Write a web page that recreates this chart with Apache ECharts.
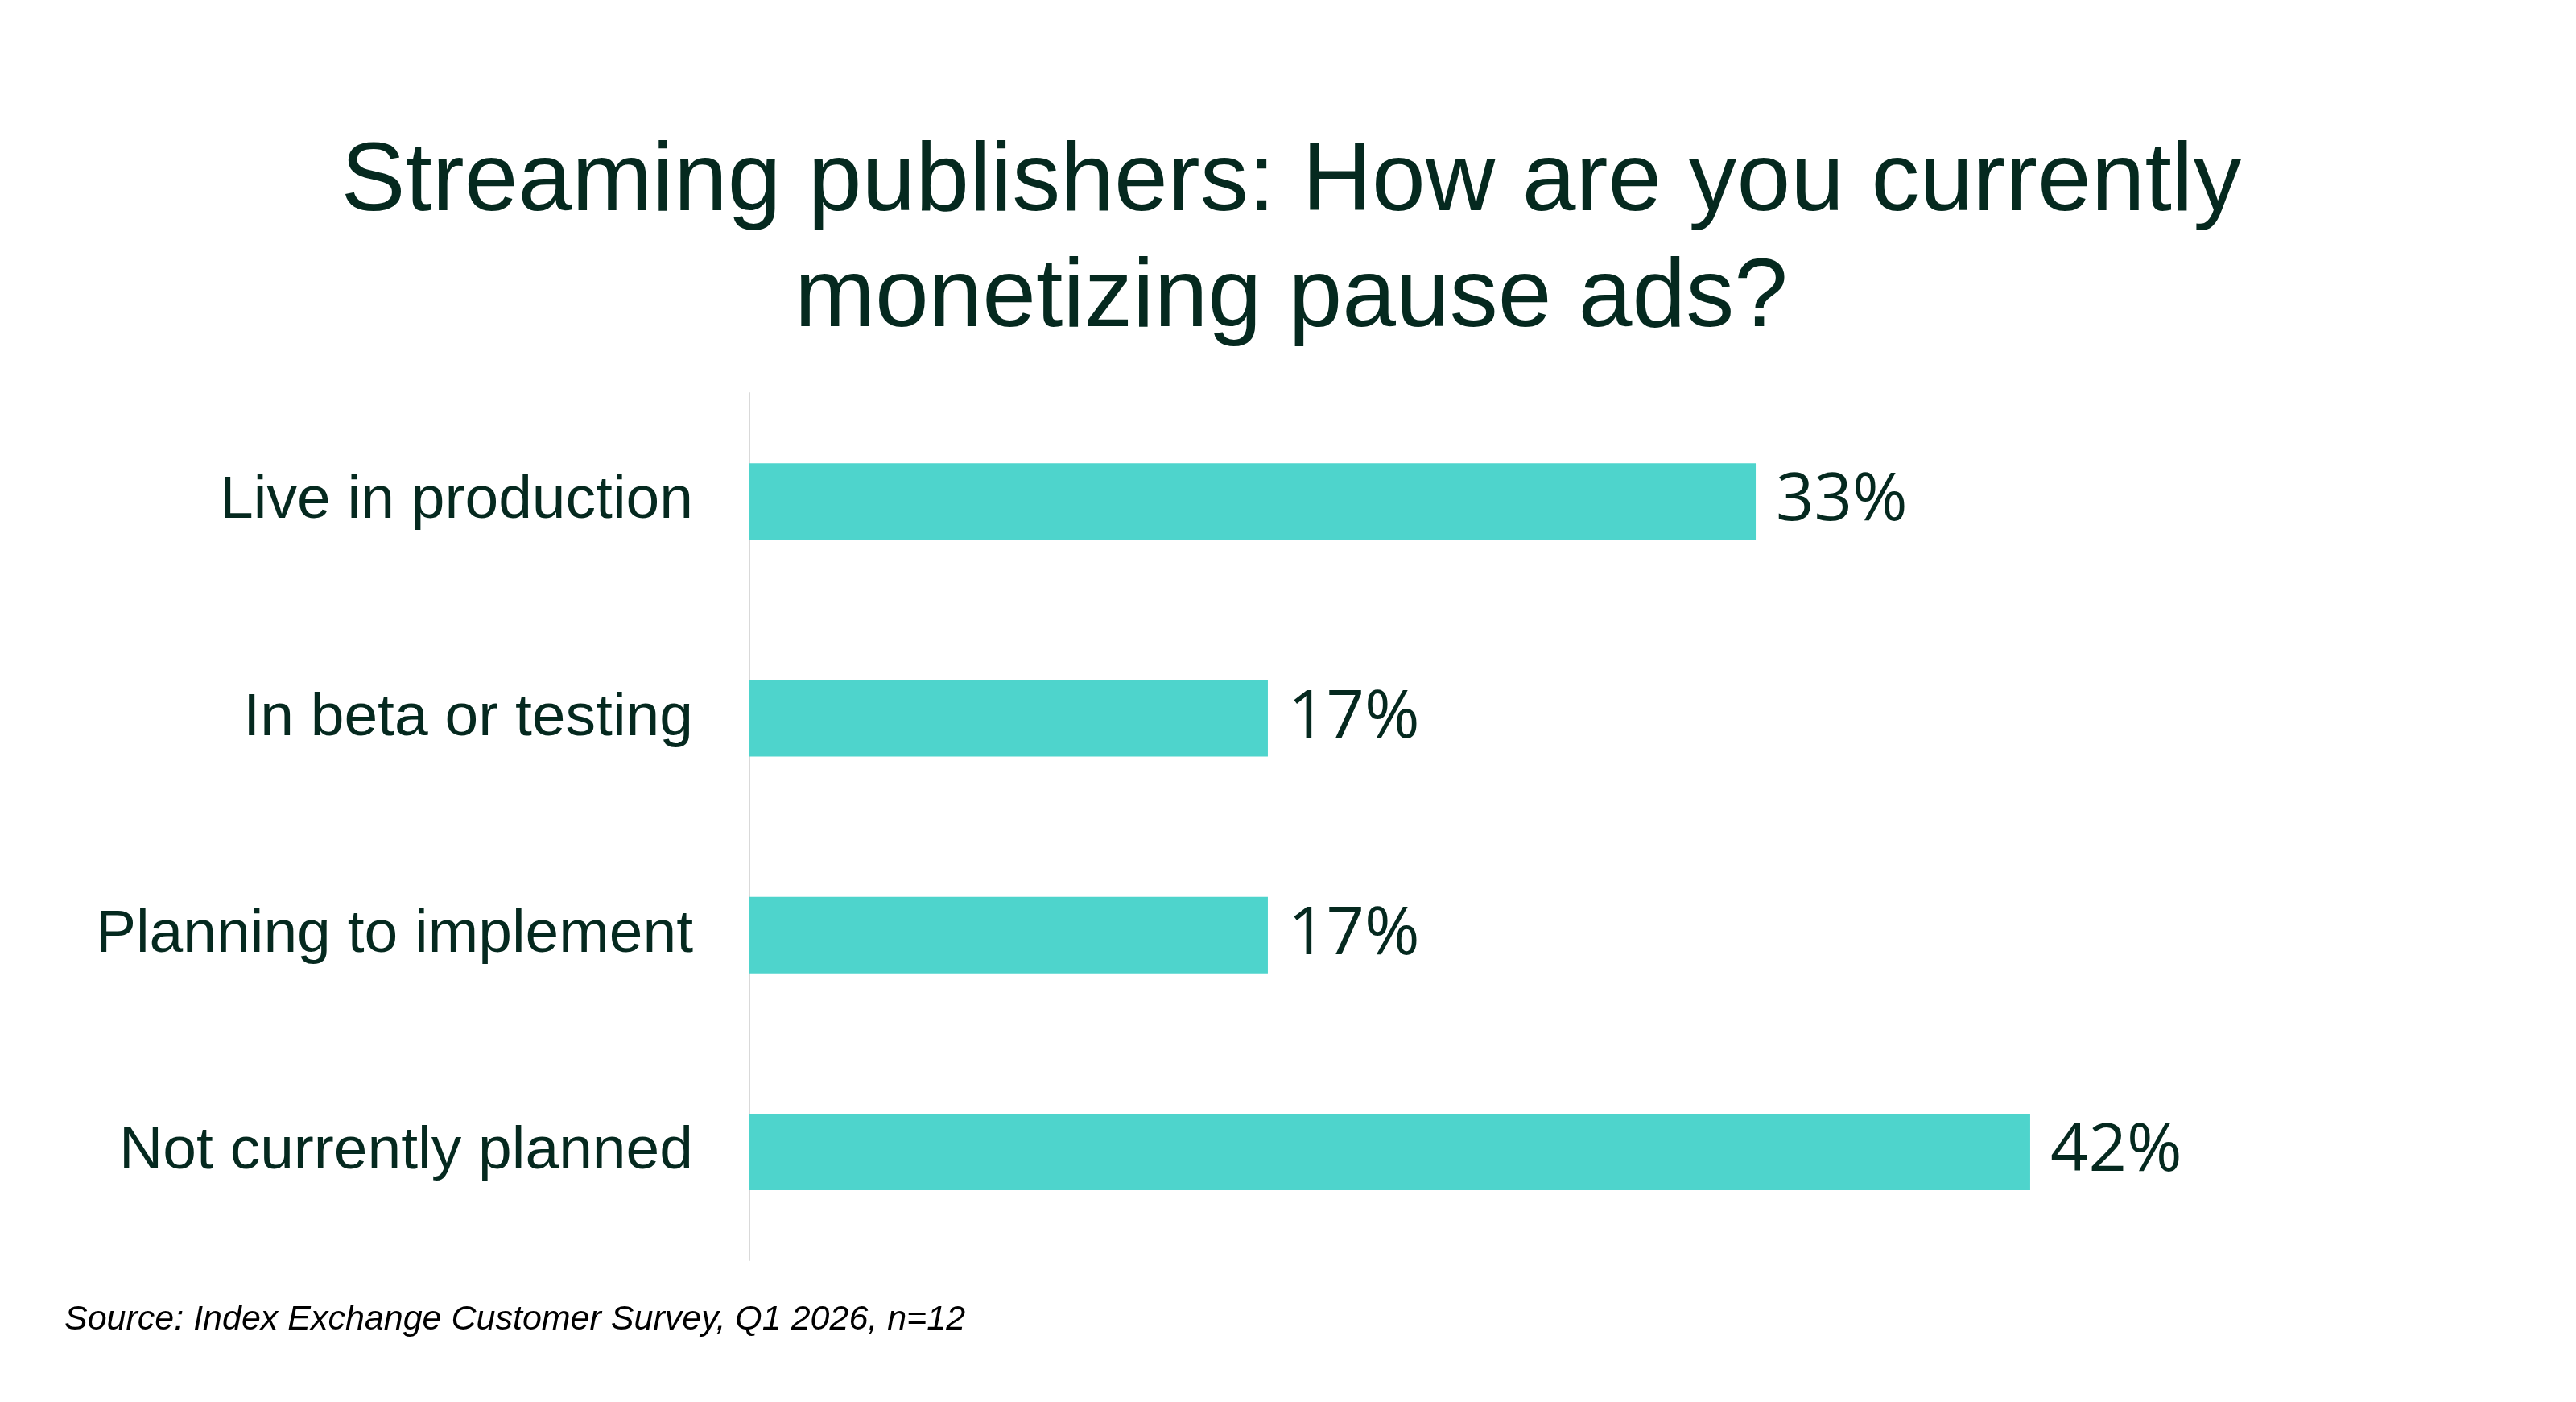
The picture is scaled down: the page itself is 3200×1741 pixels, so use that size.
<!DOCTYPE html>
<html>
<head>
<meta charset="utf-8">
<script src="https://cdn.jsdelivr.net/npm/echarts@6/dist/echarts.min.js"></script>
<style>
  html, body { margin: 0; padding: 0; background: #ffffff; }
  #chart { width: 3200px; height: 1741px; }
</style>
</head>
<body>
<div id="chart"></div>
<script>
const categories = ["Live in production", "In beta or testing", "Planning to implement", "Not currently planned"];
const shares = [33, 17, 17, 42];

const titleText = "Streaming publishers: How are you currently\nmonetizing pause ads?";
const sourceText = "Source: Index Exchange Customer Survey, Q1 2026, n=12";

const ink = "#05291f";
const barColor = "#4ed4cc";

var myChart = echarts.init(document.getElementById("chart"), null, { renderer: "canvas" });

const option = {
  backgroundColor: "#ffffff",
  animation: false,
  grid: {
    left: 931,
    right: 375,
    top: 488,
    bottom: 176,
    containLabel: false,
  },
  xAxis: {
    type: "value",
    min: 0,
    max: 50,
    show: false,
  },
  yAxis: {
    type: "category",
    data: categories,
    inverse: true,
    axisLine: { show: true, lineStyle: { color: "#d9d9d9", width: 2 } },
    axisTick: { show: false },
    splitLine: { show: false },
    axisLabel: {
      margin: 70,
      fontFamily: "Liberation Sans",
      fontSize: 75,
      color: ink,
    },
  },
  series: [
    {
      type: "bar",
      data: shares,
      barWidth: 95,
      silent: true,
      itemStyle: { color: barColor },
      label: {
        show: true,
        position: "right",
        distance: 25,
        formatter: "{c}%",
        fontFamily: "Open Sans",
        fontSize: 83,
        color: ink,
      },
    },
  ],
  graphic: [
    {
      type: "text",
      x: 1604,
      y: 156,
      style: {
        text: titleText,
        align: "center",
        verticalAlign: "top",
        fontFamily: "Liberation Sans",
        fontSize: 120,
        lineHeight: 144,
        fill: ink,
      },
    },
    {
      type: "text",
      left: 80,
      top: 1618,
      style: {
        text: sourceText,
        fontFamily: "Liberation Sans",
        fontStyle: "italic",
        fontSize: 43,
        fill: "#000000",
      },
    },
  ],
};

option && myChart.setOption(option);
</script>
</body>
</html>
